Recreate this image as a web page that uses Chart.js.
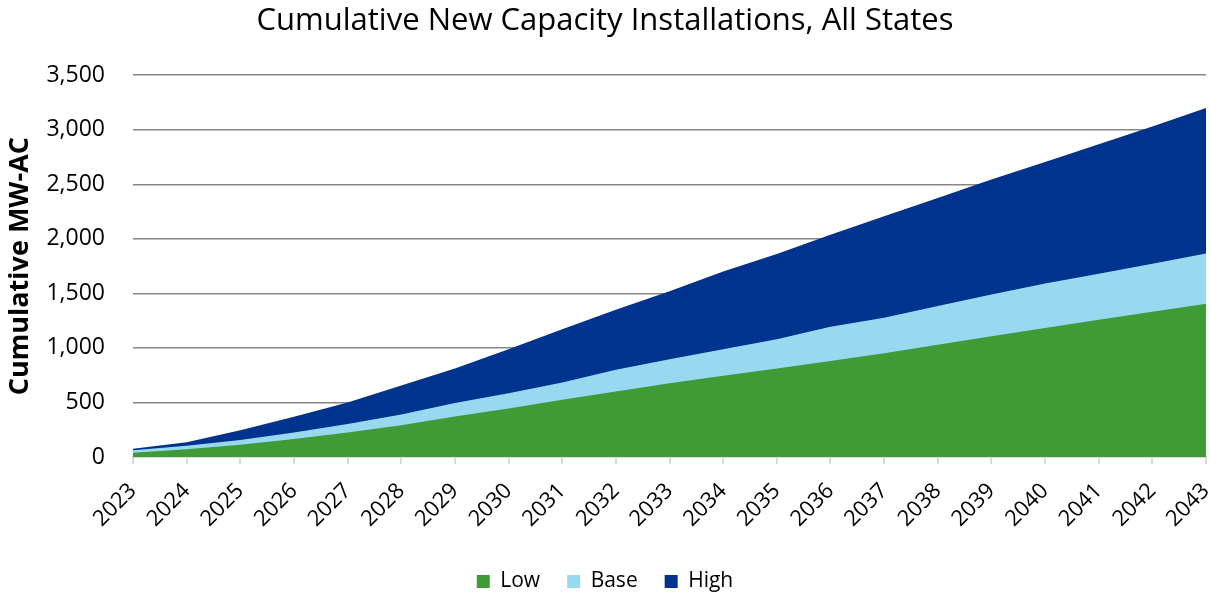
<!DOCTYPE html>
<html>
<script src="https://cdnjs.cloudflare.com/ajax/libs/Chart.js/4.4.1/chart.umd.min.js"></script>
<style>
  body { margin: 0; background: #fff; }
  #wrap { width: 1211px; height: 596px; }
</style>
<body>
  <div id="wrap">
    <canvas id="myChart" width="1211" height="596"></canvas>
  </div>
  <script>
    // cumulative MW-AC installed, by year and scenario
    const years = ['2023', '2024', '2025', '2026', '2027', '2028', '2029', '2030', '2031', '2032', '2033',
      '2034', '2035', '2036', '2037', '2038', '2039', '2040', '2041', '2042', '2043'];
    const lowValues = [39, 70, 113, 165, 225, 292, 372, 445, 524, 600, 676,
      745, 812, 880, 952, 1030, 1108, 1183, 1258, 1332, 1405];
    const baseValues = [61, 103, 155, 225, 302, 390, 494, 585, 683, 800, 896,
      987, 1079, 1195, 1277, 1385, 1490, 1590, 1680, 1772, 1865];
    const highValues = [76, 135, 245, 370, 500, 655, 811, 987, 1170, 1350, 1520,
      1700, 1862, 2038, 2206, 2374, 2545, 2705, 2866, 3030, 3200];

    const font = "'Open Sans', sans-serif";

    const area = (label, data, color) => ({
      label: label,
      data: data,
      backgroundColor: color,
      borderColor: color,
      borderWidth: 0,
      pointRadius: 0,
      tension: 0,
      fill: 'origin'
    });

    new Chart('myChart', {
      type: 'line',
      data: {
        labels: years,
        datasets: [
          area('Low', lowValues, '#3f9b35'),
          area('Base', baseValues, '#99d9f0'),
          area('High', highValues, '#00338e')
        ]
      },
      options: {
        responsive: false,
        animation: false,
        layout: { padding: { left: 4, right: 5, top: 0, bottom: -6 } },
        plugins: {
          tooltip: { enabled: false },
          title: {
            display: true,
            text: 'Cumulative New Capacity Installations, All States',
            color: '#000',
            font: { family: font, size: 31, weight: 'normal' },
            padding: { top: 3, bottom: 35 }
          },
          legend: {
            position: 'bottom',
            labels: {
              color: '#000',
              font: { family: font, size: 21 },
              boxWidth: 13,
              boxHeight: 13,
              padding: 27
            }
          }
        },
        scales: {
          x: {
            afterFit: (scale) => {
              scale.height = 87;
              scale.paddingRight = 0;
            },
            grid: {
              drawOnChartArea: false,
              drawTicks: true,
              tickLength: 7,
              color: '#d9d9d9',
              lineWidth: 2
            },
            border: { color: '#d9d9d9', width: 2 },
            ticks: {
              color: '#000',
              font: { family: font, size: 22 },
              minRotation: 45,
              maxRotation: 45,
              autoSkip: false,
              padding: 14
            }
          },
          y: {
            min: 0,
            max: 3500,
            afterFit: (scale) => { scale.width = 129; },
            grid: {
              color: '#868686',
              lineWidth: 1.5,
              drawTicks: false
            },
            border: { display: false },
            title: {
              display: true,
              text: 'Cumulative MW-AC',
              color: '#000',
              font: { family: font, size: 27, weight: 'bold' },
              padding: 0
            },
            ticks: {
              stepSize: 500,
              color: '#000',
              font: { family: font, size: 23 },
              padding: 28,
              callback: (v) => v.toLocaleString('en-US')
            }
          }
        }
      }
    });
  </script>
</body>
</html>
